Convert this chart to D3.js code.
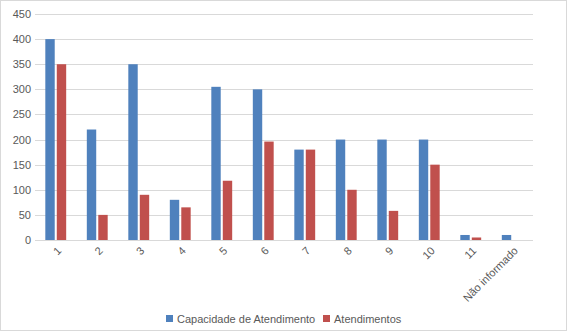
<!DOCTYPE html>
<html>
<head>
<meta charset="utf-8">
<script src="https://cdn.jsdelivr.net/npm/d3@7"></script>
<style>
  body { margin: 0; background: #fff; }
  svg { display: block; font-family: "Liberation Sans", Arial, sans-serif; }
</style>
</head>
<body>
<script>
const categories = ["1", "2", "3", "4", "5", "6", "7", "8", "9", "10", "11", "Não informado"];
const capacidade = [400, 220, 350, 80, 305, 300, 180, 200, 200, 200, 10, 10];
const atendimentos = [350, 50, 90, 65, 118, 196, 180, 100, 58, 150, 5, null];
const seriesNames = ["Capacidade de Atendimento", "Atendimentos"];
const yTicks = [0, 50, 100, 150, 200, 250, 300, 350, 400, 450];

const width = 567, height = 331;
const colors = ["#4F81BD", "#C0504D"];
const margin = { top: 14, left: 35, right: 34, bottom: 91 };

const svg = d3.select("body").append("svg")
  .attr("width", width)
  .attr("height", height);

svg.append("rect")
  .attr("x", 0.5).attr("y", 0.5)
  .attr("width", width - 1).attr("height", height - 1)
  .attr("fill", "#fff").attr("stroke", "#D9D9D9");

const x = d3.scaleBand()
  .domain(categories)
  .range([margin.left, width - margin.right]);

const x1 = d3.scaleBand()
  .domain(seriesNames)
  .range([0, x.bandwidth()])
  .paddingInner(0.18)
  .paddingOuter(0.9);

const y = d3.scaleLinear()
  .domain([0, 450])
  .range([height - margin.bottom, margin.top]);

// grid
svg.append("g")
  .selectAll("line")
  .data(yTicks.slice(1))
  .enter().append("line")
  .attr("x1", margin.left).attr("x2", width - margin.right)
  .attr("y1", d => Math.round(y(d)) + 0.5).attr("y2", d => Math.round(y(d)) + 0.5)
  .attr("stroke", "#D9D9D9");

// y labels
svg.append("g")
  .selectAll("text")
  .data(yTicks)
  .enter().append("text")
  .attr("x", margin.left - 4)
  .attr("y", d => y(d) + 4)
  .attr("text-anchor", "end")
  .attr("font-size", 11)
  .attr("fill", "#595959")
  .text(d => d);

// bars
const data = categories.map((c, i) => ({ c, vals: [capacidade[i], atendimentos[i]] }));
const groups = svg.append("g")
  .selectAll("g")
  .data(data)
  .enter().append("g")
  .attr("transform", d => `translate(${x(d.c)},0)`);

groups.selectAll("rect")
  .data(d => d.vals.map((v, k) => ({ v, k })).filter(e => e.v != null))
  .enter().append("rect")
  .attr("x", d => x1(seriesNames[d.k]))
  .attr("width", x1.bandwidth())
  .attr("y", d => y(d.v))
  .attr("height", d => y(0) - y(d.v))
  .attr("fill", d => colors[d.k]);

// x axis line
svg.append("line")
  .attr("x1", margin.left).attr("x2", width - margin.right)
  .attr("y1", Math.round(y(0)) + 0.5).attr("y2", Math.round(y(0)) + 0.5)
  .attr("stroke", "#D9D9D9");

// x labels rotated
svg.append("g")
  .selectAll("text")
  .data(categories)
  .enter().append("text")
  .attr("transform", d => `translate(${x(d) + x.bandwidth() / 2 + 1},${y(0) + 6}) rotate(-45)`)
  .attr("text-anchor", "end")
  .attr("dy", "0.7em")
  .attr("font-size", 11)
  .attr("fill", "#595959")
  .text(d => d);

// legend
const legend = svg.append("g").attr("transform", "translate(166,319)");
const items = [{ name: seriesNames[0], x: 0 }, { name: seriesNames[1], x: 157 }];
items.forEach((it, i) => {
  legend.append("rect")
    .attr("x", it.x).attr("y", -4)
    .attr("width", 7).attr("height", 7)
    .attr("fill", colors[i]);
  legend.append("text")
    .attr("x", it.x + 11).attr("y", 4)
    .attr("font-size", 11)
    .attr("fill", "#595959")
    .text(it.name);
});
</script>
</body>
</html>
